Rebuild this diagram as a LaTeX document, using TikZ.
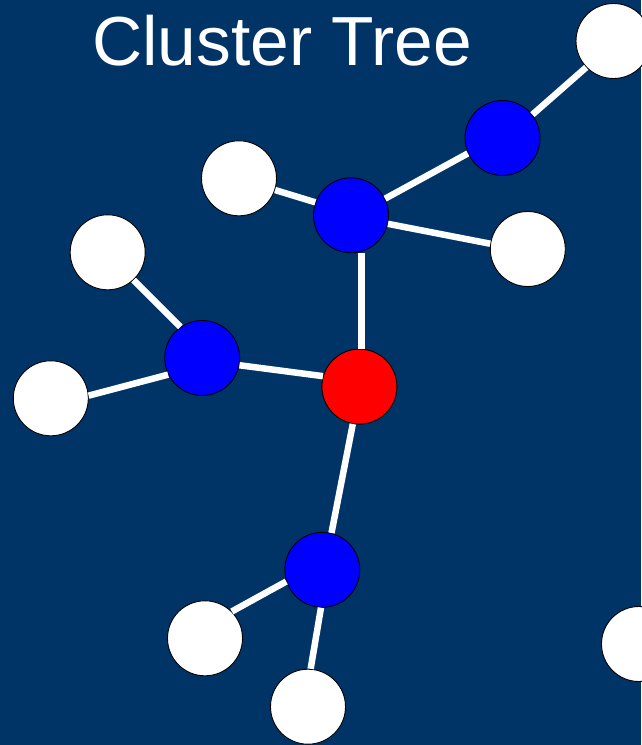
\documentclass[tikz,border=0pt]{standalone}
\usepackage{fontspec}
\setmainfont{Liberation Sans}
\definecolor{bgc}{RGB}{0,51,102}
\definecolor{nblue}{RGB}{0,0,255}
\definecolor{nred}{RGB}{255,0,0}
\tikzset{
  dot/.style={circle, draw=black, line width=0.9pt, minimum size=75pt, inner sep=0pt},
  wdot/.style={dot, fill=white},
  bdot/.style={dot, fill=nblue},
  rdot/.style={dot, fill=nred},
  link/.style={draw=white, line width=6.5pt},
}
\begin{document}
\begin{tikzpicture}[x=1pt,y=-1pt]
\fill[bgc] (0,0) rectangle (641,745);
\useasboundingbox (0,0) rectangle (641,745);
\node[text=white, font=\fontsize{69.5}{80}\selectfont, anchor=base] (title) at (282,65) {Cluster Tree};
% nodes
\node[wdot] (wtr) at (613.5,41) {};
\node[bdot] (btop) at (502.5,138) {};
\node[wdot] (wa) at (239,178.3) {};
\node[bdot] (bmid) at (351,215.3) {};
\node[wdot] (wr) at (527.8,249) {};
\node[wdot] (wl1) at (107.7,252.3) {};
\node[bdot] (bl) at (202.2,358) {};
\node[rdot] (red) at (359.4,386.6) {};
\node[wdot] (wl2) at (50.8,398.3) {};
\node[bdot] (bbot) at (322.3,569.8) {};
\node[wdot] (wb1) at (205,638.3) {};
\node[wdot] (wbr) at (639,644) {};
\node[wdot] (wb2) at (308,706.7) {};
% links
\draw[link] (btop.38.7) -- (wtr.224);
\draw[link] (bmid.26) -- (btop.204);
\draw[link] (wa.-18) -- (bmid.160);
\draw[link] (bmid.-13.7) -- (wr.172);
\draw[link, line width=7pt] ([xshift=2pt]red.north) -- ([xshift=2pt]red.north |- bmid.south);
\draw[link] (bl.-11) -- (red.164);
\draw[link] (wl1.-47) -- (bl.125);
\draw[link] (wl2.4) -- (bl.206);
\draw[link] (red.-100.5) -- (bbot.76.8);
\draw[link] (bbot.-162.5) -- (wb1.45.7);
\draw[link] (bbot.-92) -- (wb2.86);
\end{tikzpicture}
\end{document}
